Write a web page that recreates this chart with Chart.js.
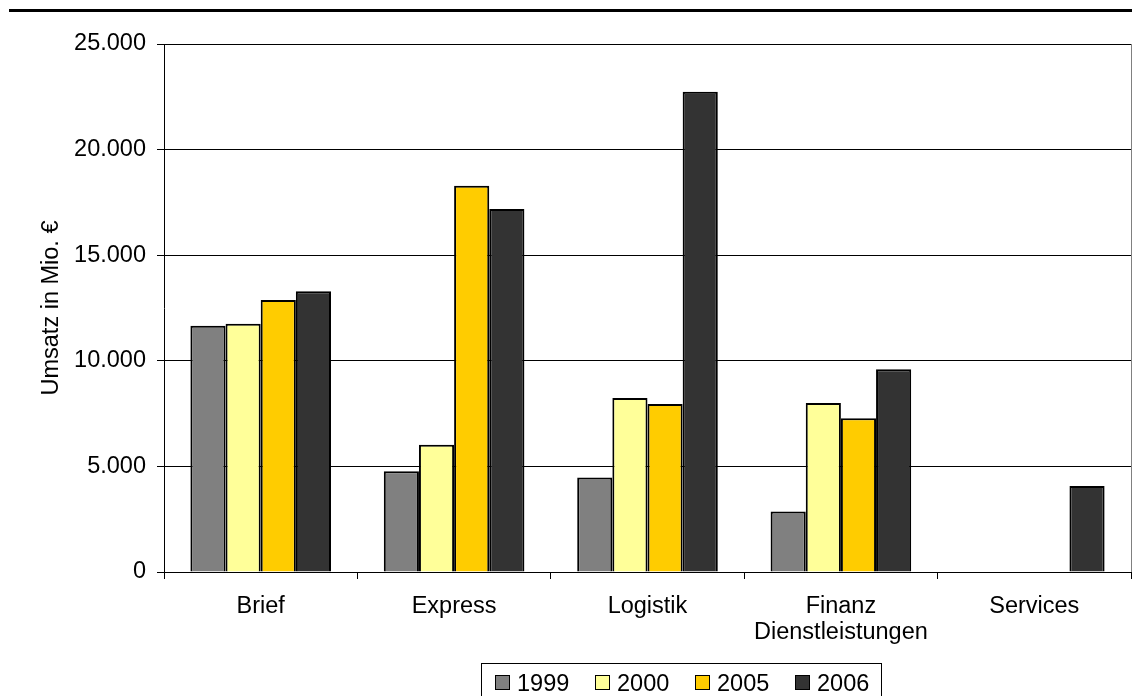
<!DOCTYPE html>
<html>
<head>
<meta charset="utf-8">
<script src="https://cdn.jsdelivr.net/npm/chart.js@4.4.1/dist/chart.umd.min.js"></script>
<style>
  html, body { margin: 0; padding: 0; background: #fff; }
  canvas { display: block; }
</style>
</head>
<body>
<canvas id="chart" width="1132" height="696"></canvas>
<script>
// Umsatz in Mio. € je Unternehmensbereich
const categories = ['Brief', 'Express', 'Logistik', ['Finanz', 'Dienstleistungen'], 'Services'];
const years = ['1999', '2000', '2005', '2006'];
const values1999 = [11660, 4770, 4470, 2860, null];
const values2000 = [11760, 6030, 8240, 8000, null];
const values2005 = [12880, 18290, 7960, 7280, null];
const values2006 = [13290, 17190, 22740, 9600, 4070];
const yTicks = [0, 5000, 10000, 15000, 20000, 25000];

const colors = ['#808080', '#FFFF99', '#FFCC00', '#333333'];
const FONT = "'Liberation Sans', Arial, sans-serif";
const FONT_SIZE = 23.5;

function fmt(v) {
    return String(v).replace(/\B(?=(\d{3})+(?!\d))/g, '.');
}

// top rule, right plot edge and boxed legend
const frame = {
    id: 'frame',
    afterDraw(chart) {
        const ctx = chart.ctx;
        const area = chart.chartArea;
        ctx.save();
        ctx.fillStyle = '#000';
        ctx.fillRect(9, 9, 1123, 3);

        ctx.strokeStyle = '#808080';
        ctx.lineWidth = 1;
        ctx.beginPath();
        ctx.moveTo(Math.round(area.right) + 0.5, area.top);
        ctx.lineTo(Math.round(area.right) + 0.5, area.bottom);
        ctx.stroke();

        ctx.strokeStyle = '#000';
        ctx.strokeRect(481.5, 663.5, 400, 60);
        ctx.font = FONT_SIZE + 'px ' + FONT;
        ctx.textBaseline = 'alphabetic';
        chart.data.datasets.forEach((ds, i) => {
            const x = 495 + i * 100;
            ctx.fillStyle = ds.backgroundColor;
            ctx.fillRect(x, 675, 15, 15);
            ctx.strokeStyle = '#000';
            ctx.strokeRect(x + 0.5, 675.5, 14, 14);
            ctx.fillStyle = '#000';
            ctx.fillText(ds.label, x + 22, 691);
        });
        ctx.restore();
    }
};

const series = [values1999, values2000, values2005, values2006];

new Chart(document.getElementById('chart'), {
    type: 'bar',
    data: {
        labels: categories,
        datasets: years.map((y, i) => ({
            label: y,
            data: series[i],
            backgroundColor: colors[i],
            borderColor: '#000',
            borderWidth: 2,
            categoryPercentage: 0.727,
            barPercentage: 1.0
        }))
    },
    options: {
        responsive: false,
        animation: false,
        devicePixelRatio: 1,
        layout: { padding: { left: 0, top: 44, right: 1, bottom: 0 } },
        plugins: {
            legend: { display: false },
            tooltip: { enabled: false }
        },
        scales: {
            x: {
                grid: { drawOnChartArea: false, tickLength: 7, color: '#000' },
                border: { color: '#000', width: 1 },
                ticks: {
                    color: '#000',
                    font: { family: FONT, size: FONT_SIZE, lineHeight: 1.12 },
                    padding: 14,
                    maxRotation: 0,
                    autoSkip: false
                },
                afterFit(scale) { scale.height = 124; }
            },
            y: {
                min: 0,
                max: 25000,
                afterBuildTicks(scale) { scale.ticks = yTicks.map(v => ({ value: v })); },
                grid: { color: '#000', lineWidth: 1, tickLength: 7 },
                border: { color: '#000', width: 1 },
                ticks: {
                    color: '#000',
                    font: { family: FONT, size: FONT_SIZE },
                    padding: 11,
                    callback: v => fmt(v)
                },
                title: {
                    display: true,
                    text: 'Umsatz in Mio. €',
                    color: '#000',
                    font: { family: FONT, size: FONT_SIZE },
                    padding: { top: 37, bottom: 0 }
                },
                afterFit(scale) { scale.width = 164; }
            }
        }
    },
    plugins: [frame]
});
</script>
</body>
</html>
